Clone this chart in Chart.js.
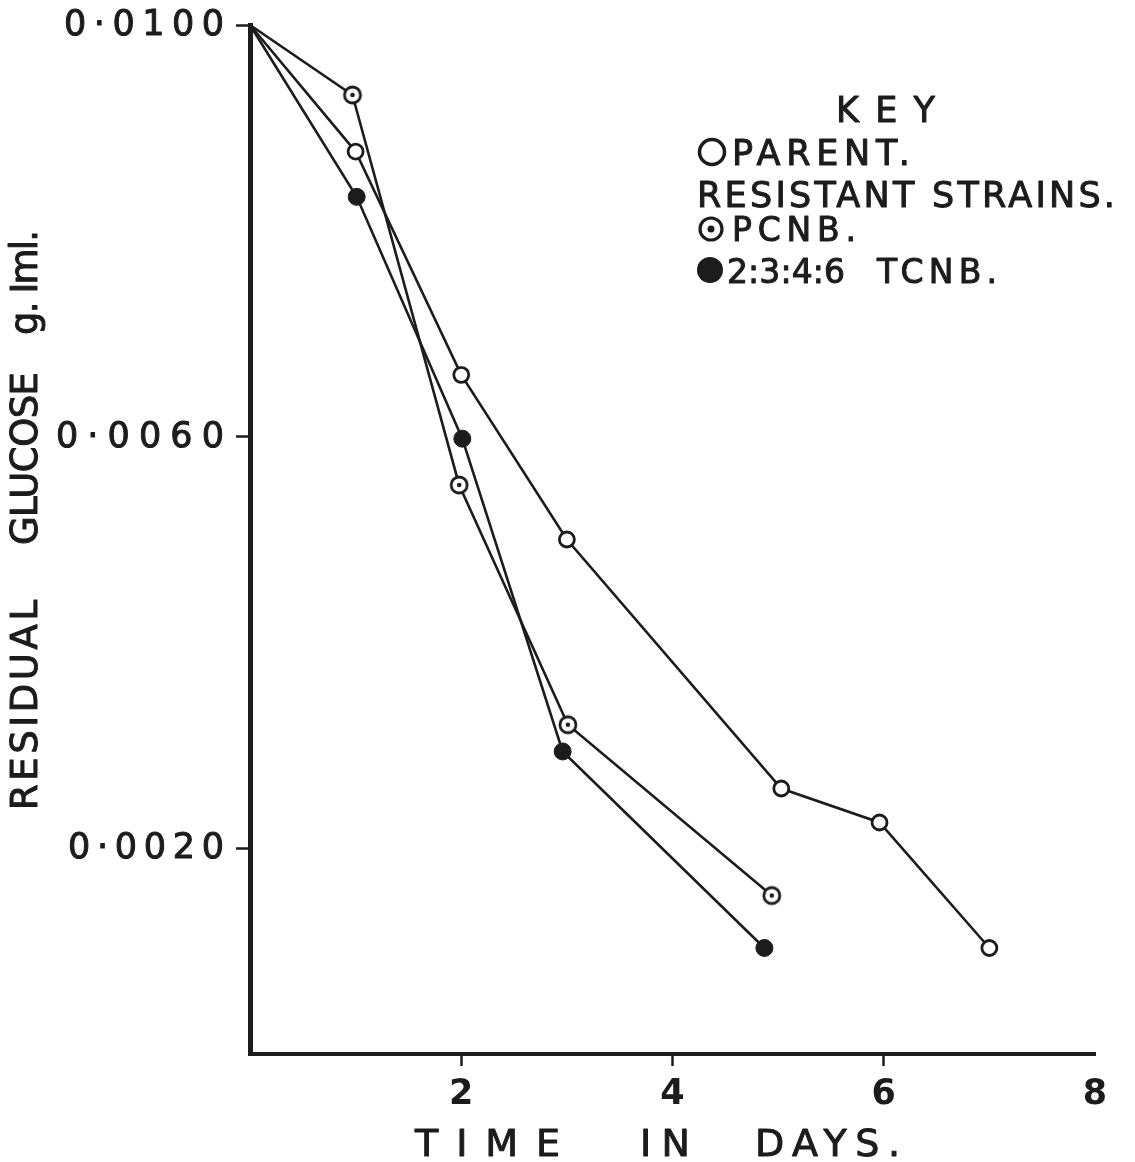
<!DOCTYPE html>
<html>
<head>
<meta charset="utf-8">
<script src="https://cdn.jsdelivr.net/npm/chart.js@4.4.1/dist/chart.umd.min.js"></script>
<style>
    html, body { margin: 0; padding: 0; background: #fff; }
    #wrap { width: 1135px; height: 1162px; }
</style>
</head>
<body>
<div id="wrap"><canvas id="chart" width="1135" height="1162"></canvas></div>
<script>
// Valores (dias x glicose residual g/ml)
const parentDays = [0, 1, 2, 3, 5.03, 5.96, 7.0];
const parentGlucose = [0.0100, 0.00877, 0.00660, 0.00500, 0.00258, 0.00225, 0.00103];
const pcnbDays = [0, 0.97, 1.98, 3.01, 4.94];
const pcnbGlucose = [0.0100, 0.00932, 0.00553, 0.00320, 0.00154];
const tcnbDays = [0, 1.01, 2.01, 2.96, 4.87];
const tcnbGlucose = [0.0100, 0.00833, 0.00598, 0.00294, 0.00103];

const xTicks = [2, 4, 6, 8];
const yTicks = [0.0020, 0.0060, 0.0100];
const yTickLabels = ['0·0020', '0·0060', '0·0100'];
const xTitle = ['TIME', 'IN', 'DAYS.'];
const yTitle = ['RESIDUAL', 'GLUCOSE', 'g. Iml.'];
const keyTitle = 'KEY';
const keyLabels = ['PARENT.', 'RESISTANT STRAINS.', 'PCNB.', '2:3:4:6', 'TCNB.'];

const INK = '#1c1c1c';
const FONT = '"DejaVu Sans", sans-serif';

function toPoints(xs, ys) {
    return xs.map((x, i) => ({ x: x, y: ys[i] }));
}

// circulo com ponto no centro (PCNB)
function dottedCircle() {
    const c = document.createElement('canvas');
    c.width = 24; c.height = 24;
    const g = c.getContext('2d');
    g.beginPath();
    g.arc(12, 12, 8, 0, Math.PI * 2);
    g.fillStyle = '#fff';
    g.fill();
    g.lineWidth = 2.8;
    g.strokeStyle = INK;
    g.stroke();
    g.beginPath();
    g.arc(12, 12, 2.3, 0, Math.PI * 2);
    g.fillStyle = INK;
    g.fill();
    return c;
}
const pcnbMarker = dottedCircle();

// texto espalhado entre left e right, com traço um pouco mais grosso
function spaced(ctx, text, left, right, y) {
    ctx.letterSpacing = '0px';
    const w = ctx.measureText(text).width;
    const n = [...text].length;
    const gap = n > 1 ? (right - left - w) / (n - 1) : 0;
    ctx.letterSpacing = gap + 'px';
    ctx.textAlign = 'left';
    ctx.fillText(text, left, y);
    ctx.lineWidth = 1;
    ctx.strokeText(text, left, y);
    ctx.letterSpacing = '0px';
}

const paperText = {
    id: 'paperText',
    afterDraw(chart) {
        const ctx = chart.ctx;
        const yScale = chart.scales.y;
        ctx.save();
        ctx.fillStyle = INK;
        ctx.strokeStyle = INK;
        ctx.lineJoin = 'round';

        // rotulos do eixo y
        ctx.font = '35px ' + FONT;
        ctx.textBaseline = 'middle';
        spaced(ctx, yTickLabels[0], 68, 224, yScale.getPixelForValue(yTicks[0]) + 1);
        spaced(ctx, yTickLabels[1], 56, 224, yScale.getPixelForValue(yTicks[1]) + 1);
        spaced(ctx, yTickLabels[2], 64, 224, yScale.getPixelForValue(yTicks[2]) + 1);

        // titulo eixo x
        ctx.textBaseline = 'alphabetic';
        ctx.font = '38px ' + FONT;
        spaced(ctx, xTitle[0], 415, 560, 1156);
        spaced(ctx, xTitle[1], 640, 690, 1156);
        spaced(ctx, xTitle[2], 755, 900, 1156);

        // titulo eixo y (vertical)
        ctx.save();
        ctx.translate(27, 0);
        ctx.rotate(-Math.PI / 2);
        ctx.textBaseline = 'middle';
        ctx.font = '37px ' + FONT;
        spaced(ctx, yTitle[0], -810, -600, 0);
        spaced(ctx, yTitle[1], -545, -372, 0);
        spaced(ctx, yTitle[2], -335, -230, 0);
        ctx.restore();

        // legenda (KEY)
        ctx.textBaseline = 'alphabetic';
        ctx.font = '35px ' + FONT;
        spaced(ctx, keyTitle, 836, 935, 122);

        ctx.lineWidth = 3.5;
        ctx.beginPath();
        ctx.arc(712, 152, 12.5, 0, Math.PI * 2);
        ctx.stroke();
        spaced(ctx, keyLabels[0], 732, 910, 165);

        spaced(ctx, keyLabels[1], 697, 1115, 207);

        ctx.lineWidth = 3.2;
        ctx.beginPath();
        ctx.arc(711, 229, 11, 0, Math.PI * 2);
        ctx.stroke();
        ctx.beginPath();
        ctx.arc(711, 229, 3.5, 0, Math.PI * 2);
        ctx.fill();
        ctx.font = '33px ' + FONT;
        spaced(ctx, keyLabels[2], 732, 856, 241);

        ctx.beginPath();
        ctx.arc(710, 270, 13, 0, Math.PI * 2);
        ctx.fill();
        spaced(ctx, keyLabels[3], 727, 845, 283);
        spaced(ctx, keyLabels[4], 877, 997, 283);

        ctx.restore();
    }
};

new Chart(document.getElementById('chart'), {
    type: 'line',
    data: {
        datasets: [
            {
                label: 'PARENT',
                data: toPoints(parentDays, parentGlucose),
                borderColor: INK,
                borderWidth: 2.6,
                pointStyle: 'circle',
                pointRadius: ctx => ctx.dataIndex === 0 ? 0 : 7.5,
                pointBackgroundColor: '#fff',
                pointBorderColor: INK,
                pointBorderWidth: 2.8,
                clip: false
            },
            {
                label: 'PCNB',
                data: toPoints(pcnbDays, pcnbGlucose),
                borderColor: INK,
                borderWidth: 2.6,
                pointStyle: pcnbMarker,
                pointRadius: ctx => ctx.dataIndex === 0 ? 0 : 8,
                clip: false
            },
            {
                label: '2:3:4:6 TCNB',
                data: toPoints(tcnbDays, tcnbGlucose),
                borderColor: INK,
                borderWidth: 2.6,
                pointStyle: 'circle',
                pointRadius: ctx => ctx.dataIndex === 0 ? 0 : 8.5,
                pointBackgroundColor: INK,
                pointBorderColor: INK,
                pointBorderWidth: 1,
                clip: false
            }
        ]
    },
    options: {
        responsive: false,
        animation: false,
        layout: { padding: { top: 25, right: 40, left: 0, bottom: 0 } },
        plugins: {
            legend: { display: false },
            tooltip: { enabled: false }
        },
        scales: {
            x: {
                type: 'linear',
                min: 0,
                max: 8,
                afterFit: s => { s.height = 108; },
                afterBuildTicks: s => { s.ticks = xTicks.map(v => ({ value: v })); },
                border: { display: true, color: INK, width: 4 },
                grid: {
                    drawOnChartArea: false,
                    drawTicks: true,
                    tickLength: 12,
                    tickWidth: 2.5,
                    tickColor: c => c.tick && c.tick.value === 8 ? 'rgba(0,0,0,0)' : INK
                },
                ticks: {
                    color: INK,
                    padding: 8,
                    maxRotation: 0,
                    font: { family: 'DejaVu Sans', size: 35, weight: 'bold' }
                }
            },
            y: {
                type: 'linear',
                min: 0,
                max: 0.0100,
                afterFit: s => { s.width = 250; },
                afterBuildTicks: s => { s.ticks = yTicks.map(v => ({ value: v })); },
                border: { display: true, color: INK, width: 5 },
                grid: {
                    drawOnChartArea: false,
                    drawTicks: true,
                    tickLength: 14,
                    tickWidth: 2.5,
                    tickColor: INK
                },
                ticks: { display: false }
            }
        }
    },
    plugins: [paperText]
});
</script>
</body>
</html>
